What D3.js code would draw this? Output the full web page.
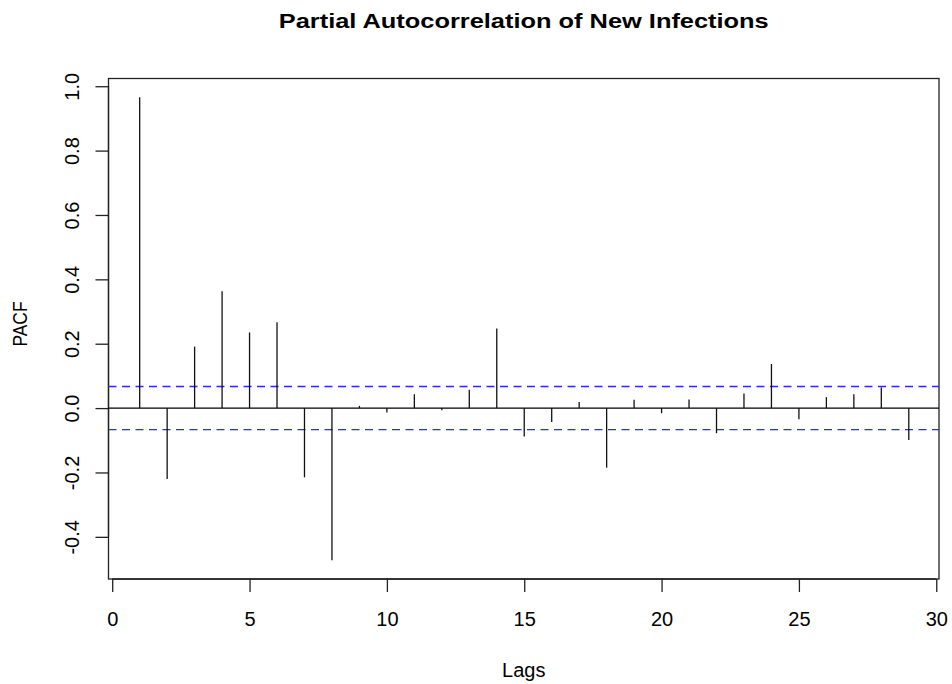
<!DOCTYPE html>
<html>
<head>
<meta charset="utf-8">
<script src="https://cdn.jsdelivr.net/npm/d3@7"></script>
<style>
  body { margin: 0; background: #fff; }
  text { font-family: "Liberation Sans", Arial, sans-serif; }
</style>
</head>
<body>
<div id="chart"></div>
<script>
// lags and partial autocorrelations
const lags = [1, 2, 3, 4, 5, 6, 7, 8, 9, 10, 11, 12, 13, 14, 15, 16, 17, 18, 19, 20, 21, 22, 23, 24, 25, 26, 27, 28, 29];
const pacf = [0.966, -0.220, 0.191, 0.363, 0.235, 0.267, -0.215, -0.473, 0.007, -0.014,
              0.043, -0.007, 0.057, 0.247, -0.088, -0.043, 0.019, -0.185, 0.026, -0.016,
              0.027, -0.078, 0.045, 0.137, -0.035, 0.034, 0.043, 0.064, -0.099];
const ciBound = 0.067;
const xTicks = [0, 5, 10, 15, 20, 25, 30];
const yTicks = [-0.4, -0.2, 0.0, 0.2, 0.4, 0.6, 0.8, 1.0];

const W = 952, H = 684;
const box = {left: 108.5, right: 939, top: 78.5, bottom: 579};

const svg = d3.select("#chart").append("svg")
  .attr("width", W)
  .attr("height", H);

// scales (R style 4% padding)
const x = d3.scaleLinear()
  .domain([-0.135, 30.1])
  .range([box.left, box.right]);
const y = d3.scaleLinear()
  .domain([-0.531, 1.024])
  .range([box.bottom, box.top]);

// x axis
const xAxis = svg.append("g")
  .attr("transform", "translate(0," + box.bottom + ")")
  .call(d3.axisBottom(x).tickValues(xTicks).tickSize(13).tickPadding(20).tickFormat(d3.format("d")));
xAxis.select(".domain").attr("d", "M" + x(0) + ",0H" + x(30));

// y axis, labels rotated like base R (plain hyphen for minus)
const yAxis = svg.append("g")
  .attr("transform", "translate(" + box.left + ",0)")
  .call(d3.axisLeft(y).tickValues(yTicks).tickSize(13).tickFormat(d => d.toFixed(1)));
yAxis.select(".domain").attr("d", "M0," + y(-0.4) + "V" + y(1.0));
yAxis.selectAll(".tick text")
  .attr("x", null).attr("dy", null)
  .attr("transform", "translate(-37,0) rotate(-90)")
  .attr("text-anchor", "middle")
  .attr("dominant-baseline", "central");

svg.selectAll(".tick text")
  .style("font-size", "20px")
  .attr("fill", "#000");
svg.selectAll(".tick line, .domain")
  .attr("stroke", "#222")
  .attr("stroke-width", 1.3);

// plot box
svg.append("rect")
  .attr("x", box.left)
  .attr("y", box.top)
  .attr("width", box.right - box.left)
  .attr("height", box.bottom - box.top)
  .attr("fill", "none")
  .attr("stroke", "#222")
  .attr("stroke-width", 1.3);

// zero line
svg.append("line")
  .attr("x1", box.left).attr("x2", box.right)
  .attr("y1", y(0)).attr("y2", y(0))
  .attr("stroke", "#000")
  .attr("stroke-width", 1.3);

// confidence bounds
svg.selectAll(".ci")
  .data([ciBound, -ciBound])
  .enter()
  .append("line")
  .attr("class", "ci")
  .attr("x1", box.left).attr("x2", box.right)
  .attr("y1", d => y(d)).attr("y2", d => y(d))
  .attr("stroke", "#2a2af0")
  .attr("stroke-width", 1.3)
  .attr("stroke-dasharray", "8,5.5");

// spikes
svg.append("g")
  .selectAll("line")
  .data(lags)
  .enter()
  .append("line")
  .attr("x1", d => x(d)).attr("x2", d => x(d))
  .attr("y1", y(0))
  .attr("y2", (d, i) => y(pacf[i]))
  .attr("stroke", "#111")
  .attr("stroke-width", 1.3);

// titles
svg.append("text")
  .attr("x", (box.left + box.right) / 2)
  .attr("y", 28)
  .attr("text-anchor", "middle")
  .attr("textLength", 490)
  .attr("lengthAdjust", "spacingAndGlyphs")
  .style("font-size", "21px")
  .style("font-weight", "bold")
  .text("Partial Autocorrelation of New Infections");

svg.append("text")
  .attr("x", (box.left + box.right) / 2)
  .attr("y", 677)
  .attr("text-anchor", "middle")
  .style("font-size", "20px")
  .text("Lags");

svg.append("text")
  .attr("transform", "translate(27,324) rotate(-90)")
  .attr("text-anchor", "middle")
  .attr("textLength", 45)
  .attr("lengthAdjust", "spacingAndGlyphs")
  .style("font-size", "20px")
  .text("PACF");
</script>
</body>
</html>
